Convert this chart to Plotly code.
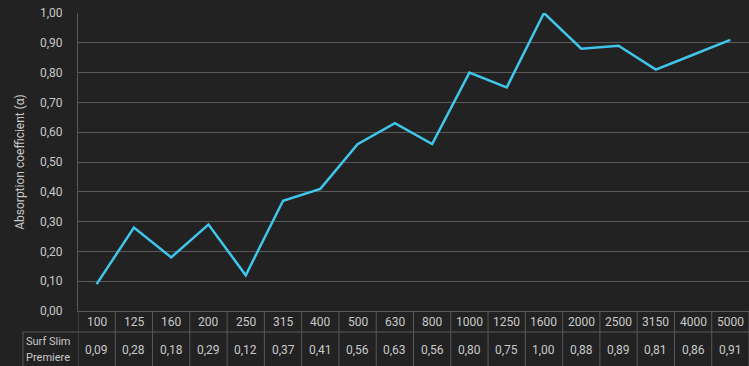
import plotly.graph_objects as go

# Third-octave band centre frequencies (Hz) and absorption values
frequencies = ["100", "125", "160", "200", "250", "315", "400", "500", "630",
               "800", "1000", "1250", "1600", "2000", "2500", "3150", "4000", "5000"]
absorption = [0.09, 0.28, 0.18, 0.29, 0.12, 0.37, 0.41, 0.56, 0.63,
              0.56, 0.80, 0.75, 1.00, 0.88, 0.89, 0.81, 0.86, 0.91]
product_lines = ["Surf Slim", "Premiere"]
y_ticks = [round(0.1 * i, 1) for i in range(11)]

BG = "#222222"
GRID = "#595959"
TEXT = "#c9c9c9"
LINE = "#3fc6ea"
FONT = "Roboto"

W, H = 749, 366
L, R, T, B = 78, 0, 13, 55
plot_h = H - T - B
plot_w = W - L - R
header_h = 21  # px height of the frequency row

def py(px_below):
    """Paper y for a pixel offset below the plot bottom."""
    return -px_below / plot_h

def px(px_left):
    """Paper x for a pixel offset left of the plot's left edge."""
    return -px_left / plot_w

n = len(frequencies)
xs = list(range(n))

fig = go.Figure()
fig.add_trace(go.Scatter(
    x=xs, y=absorption, mode="lines",
    line=dict(color=LINE, width=2.5),
    hoverinfo="skip", showlegend=False,
))

shapes = []
annotations = []
line_style = dict(color=GRID, width=1)

# Horizontal border between the frequency row and the value row
shapes.append(dict(type="line", xref="paper", yref="paper",
                   x0=px(L - 23), x1=1, y0=py(header_h), y1=py(header_h),
                   line=line_style))
# Left border of the label cell
shapes.append(dict(type="line", xref="paper", yref="paper",
                   x0=px(L - 23), x1=px(L - 23),
                   y0=py(header_h), y1=py(60), line=line_style))
# Column separators
for i in range(n + 1):
    shapes.append(dict(type="line", xref="x", yref="paper",
                       x0=i - 0.5, x1=i - 0.5, y0=0, y1=py(60),
                       line=line_style))

# Frequency labels and values
for i, (f, a) in enumerate(zip(frequencies, absorption)):
    annotations.append(dict(x=i, y=py(10.7), xref="x", yref="paper",
                            yanchor="middle", text=f, showarrow=False,
                            font=dict(color=TEXT, size=12, family=FONT)))
    annotations.append(dict(x=i, y=py(39), xref="x", yref="paper",
                            yanchor="middle",
                            text=f"{a:.2f}".replace(".", ","), showarrow=False,
                            font=dict(color=TEXT, size=12, family=FONT)))

# Product name in the row header cell
for k, (txt, off) in enumerate(zip(product_lines, [30.7, 46.3])):
    annotations.append(dict(x=px(L - 24), y=py(off),
                            xref="paper", yref="paper", xanchor="left", yanchor="middle",
                            text=txt, showarrow=False,
                            font=dict(color=TEXT, size=11, family=FONT)))

fig.update_layout(
    width=W, height=H,
    margin=dict(l=L, r=R, t=T, b=B),
    paper_bgcolor=BG, plot_bgcolor=BG,
    separators=", ",
    font=dict(family=FONT, color=TEXT, size=12),
    shapes=shapes, annotations=annotations,
    xaxis=dict(range=[-0.5, n - 0.5], showgrid=False, zeroline=False,
               showticklabels=False, showline=True, linecolor=GRID,
               fixedrange=True),
    yaxis=dict(range=[0, 1.0], tickvals=y_ticks, tickformat=".2f",
               showgrid=True, gridcolor=GRID, gridwidth=1,
               zeroline=False, showline=True, linecolor=GRID,
               ticklabelstandoff=12,
               tickfont=dict(color=TEXT, size=12, family=FONT),
               title=dict(text="Absorption coefficient (α)", standoff=12,
                          font=dict(color=TEXT, size=12, family=FONT)),
               fixedrange=True),
)

fig.write_html("out.html")
